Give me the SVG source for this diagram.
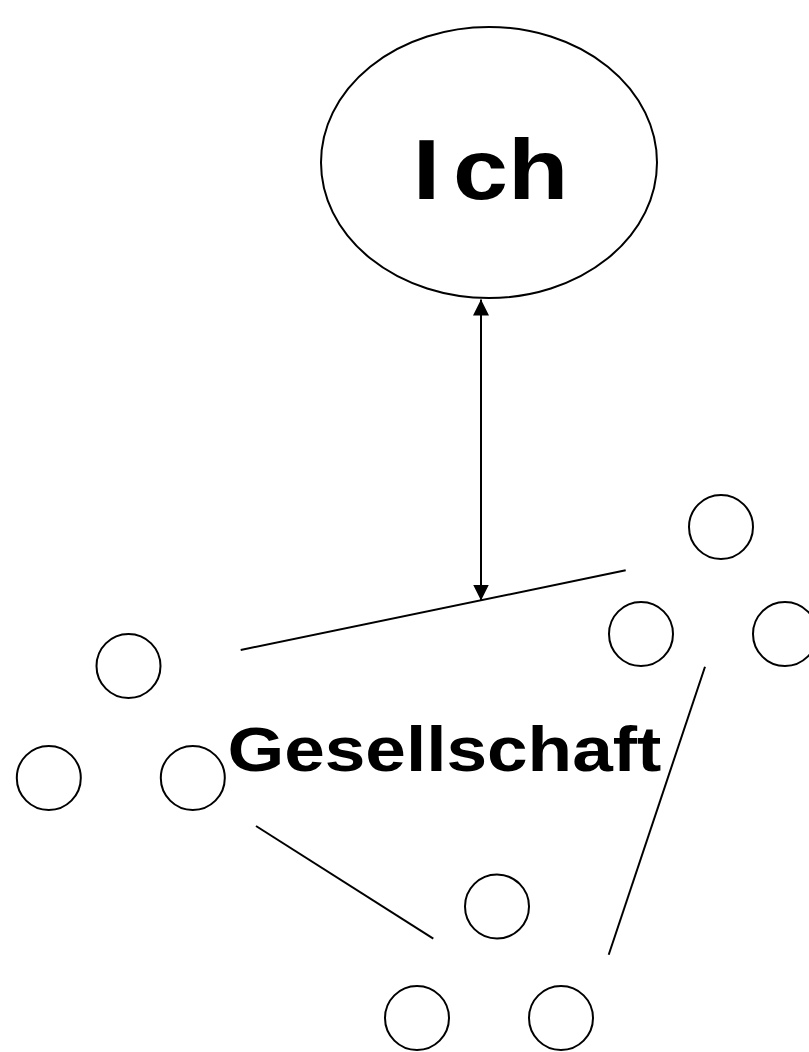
<svg xmlns="http://www.w3.org/2000/svg" width="809" height="1052" viewBox="0 0 809 1052">
<style>
.n{fill:#fff;stroke:#000;stroke-width:2}
.c{stroke:#000;stroke-width:2;fill:none}
.t{font-family:"Liberation Sans",Arial,sans-serif;font-weight:bold;fill:#000}
</style>
<defs>
<marker id="ah" viewBox="0 0 16 16" refX="16" refY="8" markerWidth="16" markerHeight="16" markerUnits="userSpaceOnUse" orient="auto-start-reverse">
<path d="M0,0 L16,8 L0,16 Z" fill="#000"/>
</marker>
</defs>
<rect width="809" height="1052" fill="#fff"/>
<g id="ich">
<ellipse class="n" cx="489" cy="162.5" rx="168" ry="135.5"/>
<text class="t" x="412.7" y="199.3" font-size="86" textLength="27.5" lengthAdjust="spacingAndGlyphs">I</text>
<text class="t" x="453.1" y="199.3" font-size="86" textLength="115.4" lengthAdjust="spacingAndGlyphs">ch</text>
</g>
<g id="gesellschaft">
<text class="t" x="227.4" y="770.7" font-size="62.4" textLength="434" lengthAdjust="spacingAndGlyphs">Gesellschaft</text>
</g>
<g id="p1"><circle class="n" cx="721" cy="527" r="32"/></g>
<g id="p2"><circle class="n" cx="641" cy="634" r="32"/></g>
<g id="p3"><circle class="n" cx="785" cy="634" r="32"/></g>
<g id="p4"><circle class="n" cx="128.5" cy="666" r="32"/></g>
<g id="p5"><circle class="n" cx="48.8" cy="778" r="32"/></g>
<g id="p6"><circle class="n" cx="192.8" cy="778" r="32"/></g>
<g id="p7"><circle class="n" cx="497" cy="906.5" r="32"/></g>
<g id="p8"><circle class="n" cx="417" cy="1018" r="32"/></g>
<g id="p9"><circle class="n" cx="561" cy="1018" r="32"/></g>
<g id="connectors">
<line class="c" x1="481" y1="299.5" x2="481" y2="600.5" marker-start="url(#ah)" marker-end="url(#ah)"/>
<line class="c" x1="240.7" y1="650" x2="625.7" y2="570.3"/>
<line class="c" x1="256" y1="826" x2="433.3" y2="938.7"/>
<line class="c" x1="705" y1="666.7" x2="608.7" y2="954.7"/>
</g>
</svg>
